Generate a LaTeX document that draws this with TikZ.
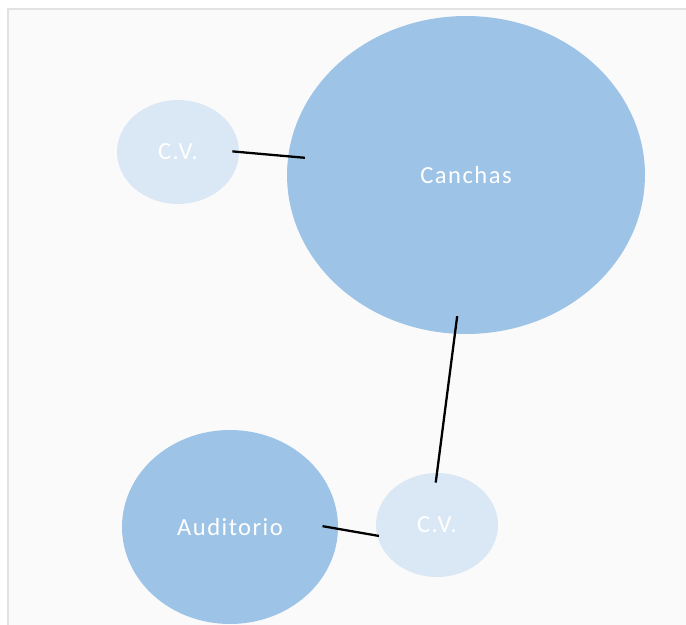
\documentclass[tikz,border=0pt]{standalone}
\usepackage{fontspec}
\usepackage{tikz}
\usetikzlibrary{positioning, shapes.geometric}
\newfontfamily\labelfont[LetterSpace=6]{Carlito}
\definecolor{zonefill}{HTML}{9DC3E6}
\definecolor{cvfill}{HTML}{DAE8F6}
\definecolor{paper}{HTML}{FAFAFA}
\definecolor{frame}{HTML}{E2E2E2}

\begin{document}
\begin{tikzpicture}[
      x=0.02cm, y=-0.02cm,
      zone/.style={ellipse, fill=zonefill, draw=none, inner sep=0pt,
          text=white, font=\labelfont\fontsize{14}{16}\selectfont},
      cvzone/.style={zone, fill=cvfill, minimum width=2.44cm, minimum height=2.08cm},
      link/.style={draw=black, line width=1.3pt},
    ]
    % Background sheet
    \useasboundingbox (0,0) rectangle (686,625);
    \fill[white] (0,0) rectangle (686,625);
    \filldraw[fill=paper, draw=frame, line width=0.8pt] (8,9) rectangle (700,640);

    % Zones
    \node[zone, minimum width=7.16cm, minimum height=6.36cm] (canchas) at (466,175) {Canchas};
    \node[zone, minimum width=4.32cm, minimum height=3.88cm] (auditorio) at (230,527) {Auditorio};
    \node[cvzone] (cvA) at (178,152) {C.V.};
    \node[cvzone] (cvB) at (437,525) {C.V.};

    % Links
    \draw[link, shorten <=-0.14cm, shorten >=-0.34cm] (cvA.east) -- (canchas.174);
    \draw[link, shorten <=-0.36cm, shorten >=-0.2cm] (canchas.266) -- (cvB.north);
    \draw[link, shorten <=-0.32cm, shorten >=-0.04cm] (auditorio.359) -- (cvB.190);
  \end{tikzpicture}
\end{document}
